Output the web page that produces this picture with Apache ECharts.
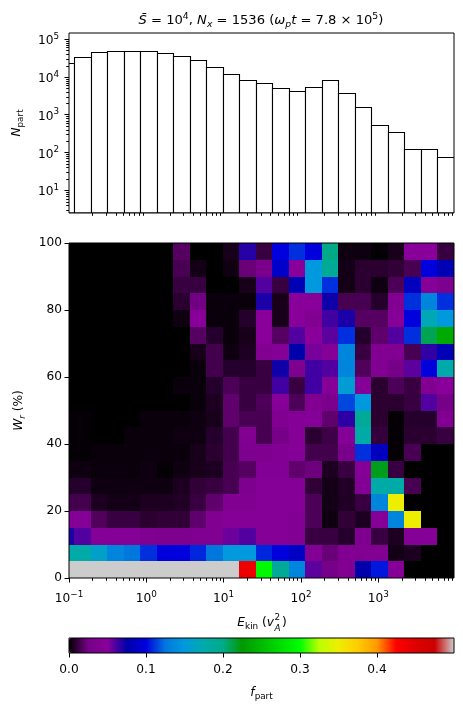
<!DOCTYPE html>
<html><head><meta charset="utf-8">
<style>html,body{margin:0;padding:0;background:#fff}#c{width:463px;height:712px}</style>
<script src="https://cdn.jsdelivr.net/npm/echarts@6/dist/echarts.min.js"></script>
</head><body><div id="c"></div>
<script>
const binEdges=[0.071,0.1161,0.19,0.3107,0.5082,0.8311,1.359,2.223,3.636,5.947,9.726,15.91,26.02,42.55,69.6,113.8,186.1,304.4,497.9,814.2,1332,2178,3562,5826,9528];
const nPart=[23100,33300,45200,48100,48100,48100,42500,35400,27700,18100,11800,8200,6820,5030,4190,5350,8200,3700,1580,526,343,126,126,75];
const wrEdges=[0,5,10,15,20,25,30,35,40,45,50,55,60,65,70,75,80,85,90,95,100];
const fPart=[
[.5,.5,.5,.5,.5,.5,.5,.5,.5,.5,.5,.437,.295,.19,.135,.058,.025,.04,.075,.105,.045,0,0,0],
[.178,.178,.16,.135,.125,.11,.1,.1,.108,.125,.15,.15,.108,.1,.087,.042,.022,.04,.04,.04,.004,.006,0,0],
[.07,.06,.045,.045,.045,.038,.032,.032,.038,.038,.055,.06,.045,.045,.042,.012,.012,.008,.037,.012,.006,.045,.045,0],
[.045,.045,.017,.012,.012,.009,.01,.01,.02,.04,.045,.045,.045,.045,.042,.016,.003,.01,.006,.045,.135,.35,0,0],
[.014,.014,.006,.004,.004,.006,.006,.007,.012,.02,.04,.04,.045,.045,.045,.016,.004,.007,.012,.135,.35,0,0,0],
[.008,.008,.003,.003,.003,.003,.003,.006,.01,.012,.015,.035,.045,.045,.045,.01,.004,.007,.042,.178,.178,.015,0,0],
[.003,.003,.002,.002,.002,.003,.001,.003,.005,.006,.015,.018,.042,.042,.02,.023,.006,.012,.045,.22,.012,0,0,0],
[.001,.001,.002,.002,.002,.002,.002,.002,.005,.009,.014,.035,.035,.042,.045,.014,.014,.03,.11,.085,.001,.015,0,0],
[.001,.001,0,0,.002,.002,.002,.003,.003,.008,.014,.04,.015,.025,.045,.009,.013,.045,.178,.011,.001,.009,.009,.012],
[.001,.001,0,0,0,.002,.002,.002,.003,.005,.02,.015,.015,.04,.045,.045,.02,.067,.19,.009,.001,.008,.008,.04],
[0,0,0,0,0,0,0,0,.002,.006,.02,.012,.016,.045,.016,.04,.03,.115,.15,.009,.009,.012,.06,.025],
[0,0,0,0,0,0,0,.002,.002,.008,.016,.012,.012,.063,.012,.063,.045,.155,.045,.009,.016,.012,.04,.05],
[0,0,0,0,0,0,0,0,.002,.014,.008,.008,.012,.072,.035,.063,.06,.135,.017,.04,.025,.058,.1,.175],
[0,0,0,0,0,0,0,0,.005,.014,.003,.006,.04,.045,.075,.053,.045,.135,.012,.04,.04,.015,.066,.08],
[0,0,0,0,0,0,0,0,.018,.008,.002,.005,.05,.018,.06,.05,.058,.11,.008,.02,.06,.11,.21,.237],
[0,0,0,0,0,0,0,.003,.05,.002,.002,.008,.05,.005,.05,.04,.063,.07,.018,.018,.045,.1,.17,.15],
[0,0,0,0,0,0,0,.009,.024,.002,.002,.002,.07,.005,.05,.05,.072,.015,.015,.008,.04,.11,.135,.11],
[0,0,0,0,0,0,0,.012,.012,0,0,.005,.06,.012,.08,.15,.11,.004,.009,.003,.016,.085,.045,.035],
[0,0,0,0,0,0,0,.015,.004,0,.003,.022,.03,.09,.05,.15,.19,.004,.009,.009,.01,.015,.1,.08],
[0,0,0,0,0,0,0,.018,0,0,.005,.068,.012,.1,.11,.1,.2,.003,.003,.001,.005,.05,.05,.012]
];
const cmapColors=['#000000','#770088','#880099','#0000aa','#0000dd','#0077dd','#0099dd','#00aaaa','#00aa88','#009900','#00bb00','#00dd00','#00ff00','#bbff00','#eeee00','#ffcc00','#ff9900','#ff0000','#dd0000','#cc0000','#cccccc'];
const xMajor=[0.1,1,10,100,1000];
const xMinor=[.2,.3,.4,.5,.6,.7,.8,.9,2,3,4,5,6,7,8,9,20,30,40,50,60,70,80,90,200,300,400,500,600,700,800,900,2000,3000,4000,5000,6000,7000,8000,9000];
const yMajor=[10,100,1000,10000,100000];
const yMinor=[3,4,5,6,7,8,9,20,30,40,50,60,70,80,90,200,300,400,500,600,700,800,900,2000,3000,4000,5000,6000,7000,8000,9000,20000,30000,40000,50000,60000,70000,80000,90000];
const cbTicks=[0,.1,.2,.3,.4];
const xMin=.1,xMax=9528,yMin=2.5,yMax=145000;

const FONT='"DejaVu Sans"',FS=12.2,FSS=8.8;
const base={fontFamily:FONT,fontSize:FS,color:'#000',fontWeight:'normal'};
const small={...base,fontSize:FSS};
const rich={
 r:{...base,verticalAlign:'middle',lineHeight:26},
 i:{...base,fontStyle:'italic',verticalAlign:'middle',lineHeight:26},
 sub:{...small,verticalAlign:'middle',padding:[7,0,0,0]},
 subi:{...small,fontStyle:'italic',verticalAlign:'middle',padding:[7,0,0,0]},
 sup:{...small,verticalAlign:'middle',padding:[0,0,9,0]}
};
const tbase={...base,fontSize:13.1},tsmall={...base,fontSize:9.3};
const titleRich={
 r:{...tbase,verticalAlign:'middle',lineHeight:26},
 i:{...tbase,fontStyle:'italic',verticalAlign:'middle',lineHeight:26},
 subi:{...tsmall,fontStyle:'italic',verticalAlign:'middle',padding:[7,0,0,0]},
 sup:{...tsmall,verticalAlign:'middle',padding:[0,0,9,0]}
};
const pow=v=>{const e=Math.round(Math.log10(v));return `{r|10}{sup|${e<0?'\u2212':''}${Math.abs(e)}}`;};

const frame={show:true,borderColor:'#000',borderWidth:1,backgroundColor:'transparent',outerBoundsMode:'none'};
const grids=[
 {left:69,width:385,top:33,height:180,...frame,z:5},
 {left:69,width:385,top:243,height:335,...frame,z:5},
 {left:69,width:385,top:638,height:15,...frame,z:8}
];
const tick={length:4.5,lineStyle:{color:'#000',width:1}};
const xAxes=[
 {gridIndex:0,type:'log',min:xMin,max:xMax,axisLine:{show:false},axisTick:{show:false},axisLabel:{show:false},splitLine:{show:false}},
 {gridIndex:1,type:'log',min:xMin,max:xMax,axisLine:{show:false},splitLine:{show:false},
  axisTick:{...tick,customValues:xMajor},
  axisLabel:{customValues:xMajor,formatter:pow,rich,margin:8,hideOverlap:false}},
 {gridIndex:2,type:'value',min:0,max:.5,axisLine:{show:false},splitLine:{show:false},
  axisTick:{...tick,customValues:cbTicks},
  axisLabel:{...base,customValues:cbTicks,formatter:v=>v.toFixed(1),margin:11},
  name:'{i|f}{sub|part}',nameLocation:'middle',nameGap:27,nameTextStyle:{rich,...base}}
];
const yAxes=[
 {gridIndex:0,type:'log',min:yMin,max:yMax,axisLine:{show:false},splitLine:{show:false},
  axisTick:{...tick,customValues:yMajor},
  axisLabel:{customValues:yMajor,formatter:pow,rich,margin:10,padding:[4,0,0,0]},
  name:'{i|N}{sub|part}',nameLocation:'middle',nameGap:39,nameTextStyle:{rich,...base}},
 {gridIndex:1,type:'value',min:0,max:100,interval:20,axisLine:{show:false},splitLine:{show:false},
  axisTick:{...tick},axisLabel:{...base,margin:7,padding:[2,0,0,0]},
  name:'{i|W}{subi|r} {r|(%)}',nameLocation:'middle',nameGap:37,nameTextStyle:{rich,...base}},
 {gridIndex:2,type:'value',min:0,max:1,show:false}
];

const barData=nPart.map((v,i)=>[binEdges[i],binEdges[i+1],v]);
const cellData=[];
fPart.forEach((row,r)=>row.forEach((v,c)=>cellData.push([binEdges[c],binEdges[c+1],wrEdges[r],wrEdges[r+1],v])));

function minorSeries(xi,yi,vals,horizontal){
 return {type:'custom',xAxisIndex:xi,yAxisIndex:yi,clip:false,silent:true,z:1,animation:false,
  data:vals.map(v=>[v]),encode:horizontal?{x:0}:{y:0},
  renderItem(p,api){
   const v=api.value(0);
   let s;
   if(horizontal){const q=api.coord([v,yAxes[yi].min]);const x=Math.round(q[0])+.5;const y=Math.round(q[1]);s={x1:x,y1:y,x2:x,y2:y+2.8};}
   else{const q=api.coord([xMin,v]);const y=Math.round(q[1])+.5;const x=Math.round(q[0]);s={x1:x,y1:y,x2:x-2.8,y2:y};}
   return {type:'line',shape:s,style:{stroke:'#000',lineWidth:1}};
  }};
}
const series=[
 {type:'custom',name:'bars',xAxisIndex:0,yAxisIndex:0,clip:true,silent:true,animation:false,z:2,
  data:barData,encode:{x:[0,1],y:2},
  renderItem(p,api){
   const a=api.coord([api.value(0),api.value(2)]),b=api.coord([api.value(1),yMin]);
   const x0=Math.round(a[0])+.5,x1=Math.round(b[0])+.5,y0=Math.round(a[1])+.5,y1=Math.round(b[1]);
   return {type:'rect',shape:{x:x0,y:y0,width:x1-x0,height:y1-y0},style:{fill:'#fff',stroke:'#000',lineWidth:1.1}};
  }},
 {type:'custom',name:'cells',xAxisIndex:1,yAxisIndex:1,clip:true,silent:true,animation:false,z:2,
  data:cellData,encode:{x:[0,1],y:[2,3]},
  renderItem(p,api){
   const a=api.coord([api.value(0),api.value(3)]),b=api.coord([api.value(1),api.value(2)]);
   const x0=Math.round(a[0]),x1=Math.round(b[0]),y0=Math.round(a[1]),y1=Math.round(b[1]);
   return {type:'rect',shape:{x:x0,y:y0,width:x1-x0,height:y1-y0},style:{fill:api.visual('color')}};
  }},
 minorSeries(0,0,xMinor,true),
 minorSeries(0,0,yMinor,false),
 minorSeries(1,1,xMinor,true)
];
const sfont=`${FSS}px ${FONT}`;
const chart=echarts.init(document.getElementById('c'),null,{renderer:'canvas',width:463,height:712});
chart.setOption({
 animation:false,backgroundColor:'#fff',
 title:{text:'{i|S\u0304} {r|= 10}{sup|4}{r|,} {i|N}{subi|x} {r|= 1536 (}{i|\u03c9}{subi|p}{i|t} {r|= 7.8 \u00d7 10}{sup|5}{r|)}',
  left:261,textAlign:'center',top:3,padding:[5,6,5,0],textStyle:{rich:titleRich,...tbase}},
 graphic:[
  {type:'text',silent:true,style:{x:274,y:623,text:'{i|E}{sub|kin} {r|(}{i|v}',rich,align:'right',verticalAlign:'middle',...base}},
  {type:'text',silent:true,style:{x:274.5,y:617.5,text:'2',font:sfont,fill:'#000',align:'left',verticalAlign:'middle'}},
  {type:'text',silent:true,style:{x:274.5,y:629,text:'A',font:`italic ${sfont}`,fill:'#000',align:'left',verticalAlign:'middle'}},
  {type:'text',silent:true,style:{x:282,y:623,text:')',font:`${FS}px ${FONT}`,fill:'#000',align:'left',verticalAlign:'middle'}}
 ],
 grid:grids,xAxis:xAxes,yAxis:yAxes,series,
 visualMap:{type:'continuous',min:0,max:.5,dimension:4,seriesIndex:1,show:true,calculable:false,orient:'horizontal',
  left:69,top:638,itemWidth:15,itemHeight:385,text:null,showLabel:false,padding:0,z:4,
  inRange:{color:cmapColors},outOfRange:{color:'#cccccc'},textStyle:{fontSize:0,color:'transparent'},hoverLink:false}
});
</script></body></html>
